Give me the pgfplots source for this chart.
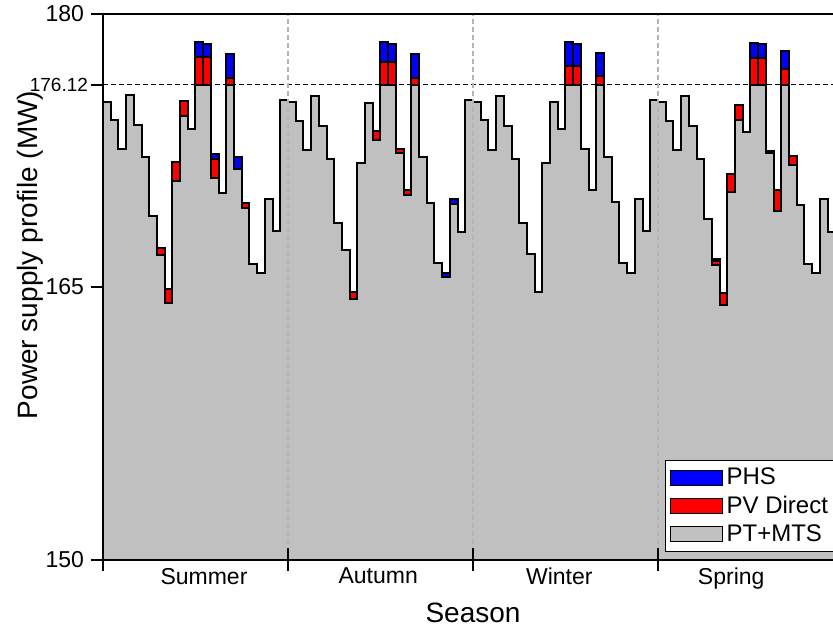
\documentclass[border=0pt]{standalone}
\usepackage{fontspec}
\setmainfont{Liberation Sans}
\usepackage{pgfplots}
\pgfplotsset{compat=1.18}
\definecolor{ptgray}{HTML}{C0C0C0}
\definecolor{gridgray}{HTML}{B4B4B4}
\begin{document}
\begin{tikzpicture}
\begin{axis}[
  at={(0,0)}, anchor=south west,
  scale only axis, width=370pt, height=273pt,
  xmin=0, xmax=96, ymin=150, ymax=180,
  axis line style={line width=1pt},
  axis on top,
  tick pos=left, tick align=outside,
  every tick/.style={black, line width=1pt},
  xtick={13.1,35.7,59.2,81.5}, xticklabels={Summer,Autumn,Winter,Spring},
  every major x tick/.style={draw=none},
  extra x ticks={0,24,48,72,96},
  extra x tick labels={},
  extra x tick style={tick align=center, major tick length=11.5pt,
    every major x tick/.style={black, line width=1pt}},
  ytick={150,165,180},
  yticklabels={150,165,180},
  extra y ticks={176.12},
  extra y tick labels={176.12},
  extra y tick style={yticklabel style={font=\fontsize{9.5}{11}\selectfont, xshift=2pt}},
  major tick length=6pt,
  every major y tick/.style={black, line width=1pt},
  xticklabel style={font=\fontsize{11.5}{13}\selectfont, yshift=5.5pt},
  yticklabel style={font=\fontsize{11.5}{13}\selectfont},
  xlabel={Season},
  ylabel={Power supply profile (MW)},
  xlabel style={at={(axis description cs:0.5,-0.097)}, anchor=center, font=\fontsize{14}{16}\selectfont},
  ylabel style={at={(axis description cs:-0.0986,0.5586)}, anchor=center, font=\fontsize{14}{16}\selectfont},
  legend image code/.code={\draw[#1, line width=0.5pt] (0pt,-3.75pt) rectangle (26pt,3.75pt);},
  legend cell align=left,
  legend style={at={(0.7595,0.1832)}, anchor=north west, draw=black, line width=0.6pt,
    font=\fontsize{12}{14}\selectfont, inner xsep=2pt, inner ysep=1.8pt, row sep=0pt},
]
\addplot[forget plot, black, line width=0.8pt, dash pattern=on 2.5pt off 1.5pt] coordinates {(0,176.12) (96,176.12)};
% PHS (top of blue block)
\addplot[ybar, bar width=1, bar shift=0pt, fill=blue, draw=black, line width=1pt] coordinates {
(12.5,178.48) (13.5,178.37) (14.5,172.33) (16.5,177.78) (17.5,172.16)
(36.5,178.44) (37.5,178.35) (40.5,177.78) (44.5,165.75) (45.5,169.84)
(60.5,178.44) (61.5,178.37) (64.5,177.88)
(79.5,166.56) (84.5,178.39) (85.5,178.33) (88.5,177.97)
};
\addlegendentry{PHS}
% PV Direct (top of red block)
\addplot[ybar, bar width=1, bar shift=0pt, fill=red, draw=black, line width=1pt] coordinates {
(7.5,167.12) (8.5,164.89) (9.5,171.89) (10.5,175.24) (12.5,177.62) (13.5,177.62) (14.5,172.01) (16.5,176.50) (18.5,169.60)
(32.5,164.74) (35.5,173.59) (36.5,177.38) (37.5,177.38) (38.5,172.56) (39.5,170.33) (40.5,176.50)
(60.5,177.16) (61.5,177.16) (64.5,176.61)
(79.5,166.43) (80.5,164.65) (81.5,171.19) (82.5,175.00) (84.5,177.60) (85.5,177.60) (86.5,172.49) (87.5,170.33) (88.5,176.96) (89.5,172.20)
};
\addlegendentry{PV Direct}
% PT+MTS
\addplot[const plot, fill=ptgray, draw=black, line width=1pt] table {
x y
0 175.18
1 174.18
2 172.56
3 175.55
4 173.90
5 172.16
6 168.90
7 166.76
8 164.14
9 170.82
10 174.40
11 173.66
12 176.12
13 176.12
14 171.01
15 170.18
16 176.12
17 171.47
18 169.36
19 166.26
20 165.75
21 169.84
22 168.08
23 175.27
24 175.18
25 174.14
26 172.53
27 175.49
28 173.85
29 172.05
30 168.53
31 167.03
32 164.32
33 171.79
34 175.13
35 173.08
36 176.12
37 176.12
38 172.34
39 170.05
40 176.12
41 172.16
42 169.63
43 166.34
44 165.53
45 169.56
46 168.04
47 175.27
48 175.18
49 174.18
50 172.53
51 175.49
52 173.85
53 172.05
54 168.53
55 166.81
56 164.71
57 171.79
58 175.18
59 173.66
60 176.12
61 176.12
62 172.56
63 170.33
64 176.12
65 172.16
66 169.67
67 166.34
68 165.75
69 169.84
70 168.08
71 175.27
72 175.18
73 174.14
74 172.53
75 175.49
76 173.85
77 172.05
78 168.72
79 166.19
80 163.99
81 170.20
82 174.18
83 173.52
84 176.12
85 176.12
86 172.34
87 169.18
88 176.12
89 171.70
90 169.51
91 166.26
92 165.75
93 169.84
94 168.04
95 175.27
96 175.27
} \closedcycle;
\addlegendentry{PT+MTS}
% season separators (dashed grid)
\addplot[forget plot, gridgray, line width=0.8pt, dash pattern=on 2.5pt off 1.5pt] coordinates {(24,150) (24,180)};
\addplot[forget plot, gridgray, line width=0.8pt, dash pattern=on 2.5pt off 1.5pt] coordinates {(48,150) (48,180)};
\addplot[forget plot, gridgray, line width=0.8pt, dash pattern=on 2.5pt off 1.5pt] coordinates {(72,150) (72,180)};
\end{axis}
\pgfresetboundingbox
\path[use as bounding box] (-51.5pt,-35pt) rectangle (365pt,280pt);
\end{tikzpicture}
\end{document}
